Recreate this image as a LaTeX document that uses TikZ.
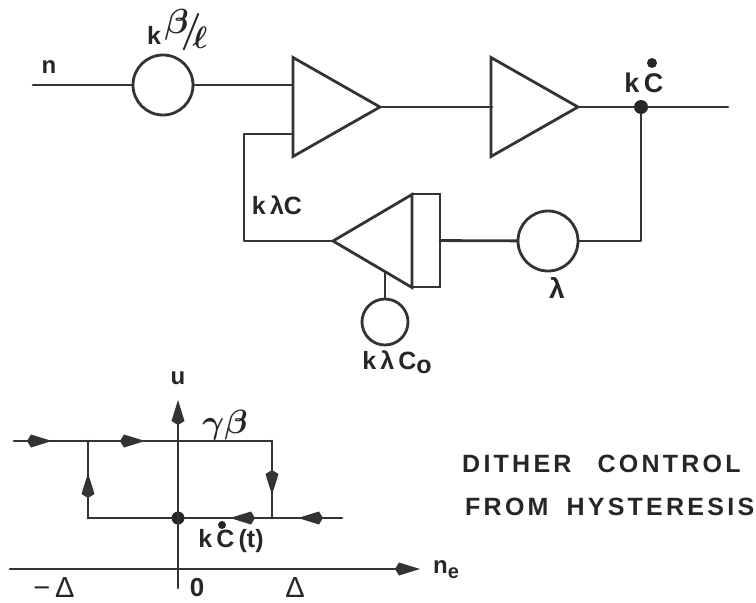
\documentclass[tikz,border=0pt]{standalone}
\usepackage{amsmath}
\usepackage{fontspec}
\setmainfont{Liberation Sans}
\newfontfamily\spacedfont[LetterSpace=13]{Liberation Sans Bold}
\usetikzlibrary{shapes.geometric,arrows.meta,decorations.markings}

\tikzset{
  wire/.style={draw=black!80,line width=2.8pt,line join=round,line cap=round},
  gain/.style={circle,draw=black!80,line width=2.8pt,inner sep=0pt,outer sep=0pt,minimum size=#1},
  amp/.style={isosceles triangle,isosceles triangle stretches,draw=black!80,line width=2.8pt,
              minimum width=99pt,minimum height=87pt,inner sep=0pt,outer sep=0pt,anchor=apex},
  junction/.style={circle,fill=black!85,inner sep=0pt,minimum size=#1},
  lbl/.style={text=black!85,inner sep=0pt,font=\fontsize{#1}{#1}\selectfont\bfseries},
  lbl/.default=25,
  thin lbl/.style={text=black!85,inner sep=0pt,font=\fontsize{#1}{#1}\selectfont},
  glyph/.style={text=black!85,inner sep=0pt,font=\fontsize{24}{24}\selectfont\boldmath},
  kite/.tip={Kite[length=25pt,width=13pt,inset=4pt]},
  tipat/.style={postaction={decorate},decoration={markings,mark=at position #1 with {\arrow{kite}}}}
}

\begin{document}
\begin{tikzpicture}[x=1pt,y=-1pt]
  \useasboundingbox (0,0) rectangle (756,603);

  % forward path
  \coordinate (start) at (33,85);
  \node[gain=60pt] (scale) at (163,85) {};
  \node[amp] (amp1) at (380,107) {};
  \node[amp] (amp2) at (578,107) {};
  \node[junction=14pt] (tap) at (641,107) {};
  \coordinate (end) at (728,107);
  \coordinate (in1) at (293,85);
  \coordinate (in2) at (293,134);
  \coordinate (in3) at (492,107);

  \draw[wire] (start) -- (scale);
  \draw[wire] (scale) -- (in1);
  \draw[wire] (amp1.apex) -- (in3);
  \draw[wire] (amp2.apex) -- (tap) -- (end);

  % feedback path
  \node[gain=60pt] (lam) at (548,241) {};
  \node[amp,shape border rotate=180,minimum height=79pt,minimum width=93pt,anchor=apex] (amp3) at (333,241) {};
  \node[draw=black!80,line width=2.8pt,minimum width=28pt,minimum height=93pt,inner sep=0pt,outer sep=0pt] (lim) at (426,240.5) {};
  \node[gain=46pt] (bias) at (385,322) {};
  \coordinate (bias top) at (385,272);

  \draw[wire] (tap) |- (lam);
  \draw[wire] (lam) -- (lim);
  \draw[wire] (amp3.apex) -| (244,134) -- (in2);
  \draw[wire,line width=2.2pt] (bias) -- (bias top);

  \node[lbl=24] (lab n) at (49,67) {n};
  \node[lbl] (lab k) at (154,35) {k};
  \node[glyph] (lab frac) at (186,30) {\raisebox{8pt}{\scalebox{1.4}{$\beta$}}\hspace{-8pt}\scalebox{1.5}{$/$}\hspace{-9pt}\raisebox{-7pt}{\scalebox{1.25}{$\ell$}}};
  \node[lbl=27] (lab kc) at (644,83) {k\,C};
  \node[junction=10pt] (lab dot) at (652,63) {};
  \node[lbl] (lab klc) at (277,205) {k\,λC};
  \node[lbl=28] (lab lam) at (557,288) {λ};
  \node[lbl] (lab klco) at (397,362) {k\,λ\,C\raisebox{-4pt}{o}};

  % hysteresis
  \coordinate (u base) at (178,588);
  \coordinate (u top) at (178,400);
  \coordinate (top left) at (14,441);
  \coordinate (top right) at (272,441);
  \coordinate (low right) at (272,518);
  \coordinate (rail end) at (342,518);
  \coordinate (rise top) at (88,441);
  \coordinate (low left) at (88,518);
  \coordinate (axis left) at (10,569);
  \coordinate (axis right) at (420,569);
  \node[junction=13pt] (origin) at (178,518) {};

  \draw[wire,-{kite}] (u base) -- (u top);
  \draw[wire,-{kite}] (axis left) -- (axis right);
  \draw[wire,tipat=38pt] (top left) -- (rise top);
  \draw[wire,tipat=57pt] (rise top) -- (top right);
  \draw[wire,tipat=54pt] (top right) -- (low right);
  \draw[wire,tipat=45pt] (low left) -- (rise top);
  \draw[wire,tipat=44pt] (rail end) -- (low right);
  \draw[wire,tipat=42pt] (low right) -- (origin);
  \draw[wire] (origin) -- (low left);

  \node[lbl=24] (lab u) at (178,378) {u};
  \node[glyph] (lab gb) at (225,425) {\scalebox{1.35}{$\gamma\beta$}};
  \node[lbl] (lab kct) at (231,541) {k\,C\,(t)};
  \node[junction=8pt] (lab dott) at (222,525) {};
  \node[thin lbl=29] (lab minus) at (54,588) {−\,Δ};
  \node[lbl=26] (lab zero) at (197,588) {0};
  \node[thin lbl=29] (lab delta) at (295,588) {Δ};
  \node[lbl=24] (lab ne) at (446,570) {n\raisebox{-5pt}{\fontsize{20}{20}\selectfont e}};

  \node[lbl=25,anchor=west] (title1) at (462,464) {\spacedfont DITHER\hspace{26pt}CONTROL};
  \node[lbl=25,anchor=west] (title2) at (465,507) {\spacedfont FROM\hspace{18pt}HYSTERESIS};
\end{tikzpicture}
\end{document}
